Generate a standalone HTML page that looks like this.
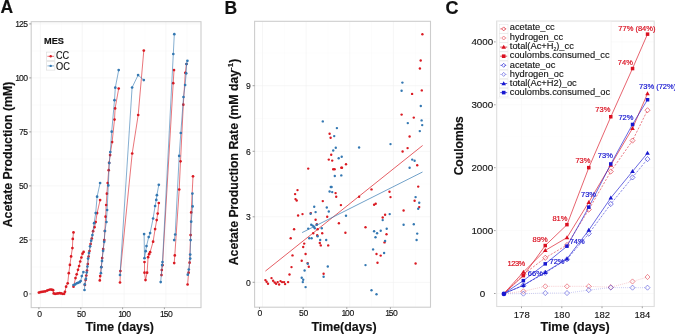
<!DOCTYPE html><html><head><meta charset="utf-8"><title>Figure</title>
<style>html,body{margin:0;padding:0;background:#fff}body{width:675px;height:334px;overflow:hidden}svg{display:block;will-change:transform;opacity:0.999}text{font-family:"Liberation Sans", sans-serif;stroke:#111;stroke-width:0.12px}text[font-weight=bold]{stroke-width:0.15px}</style></head><body>
<svg width="675" height="334" viewBox="0 0 675 334">
<rect width="675" height="334" fill="#fff"/>
<rect x="31.2" y="21.7" width="169.8" height="285.9" fill="#fff"/>
<line x1="61.3" x2="61.3" y1="21.7" y2="307.6" stroke="#f9f9f9" stroke-width="0.5"/>
<line x1="103.2" x2="103.2" y1="21.7" y2="307.6" stroke="#f9f9f9" stroke-width="0.5"/>
<line x1="145.0" x2="145.0" y1="21.7" y2="307.6" stroke="#f9f9f9" stroke-width="0.5"/>
<line x1="186.9" x2="186.9" y1="21.7" y2="307.6" stroke="#f9f9f9" stroke-width="0.5"/>
<line x1="31.2" x2="201.0" y1="266.9" y2="266.9" stroke="#f9f9f9" stroke-width="0.5"/>
<line x1="31.2" x2="201.0" y1="212.9" y2="212.9" stroke="#f9f9f9" stroke-width="0.5"/>
<line x1="31.2" x2="201.0" y1="158.9" y2="158.9" stroke="#f9f9f9" stroke-width="0.5"/>
<line x1="31.2" x2="201.0" y1="104.9" y2="104.9" stroke="#f9f9f9" stroke-width="0.5"/>
<line x1="31.2" x2="201.0" y1="50.9" y2="50.9" stroke="#f9f9f9" stroke-width="0.5"/>
<line x1="40.4" x2="40.4" y1="21.7" y2="307.6" stroke="#f0f0f0" stroke-width="0.6"/>
<line x1="82.2" x2="82.2" y1="21.7" y2="307.6" stroke="#f0f0f0" stroke-width="0.6"/>
<line x1="124.1" x2="124.1" y1="21.7" y2="307.6" stroke="#f0f0f0" stroke-width="0.6"/>
<line x1="165.9" x2="165.9" y1="21.7" y2="307.6" stroke="#f0f0f0" stroke-width="0.6"/>
<line x1="31.2" x2="201.0" y1="293.9" y2="293.9" stroke="#f0f0f0" stroke-width="0.6"/>
<line x1="31.2" x2="201.0" y1="239.9" y2="239.9" stroke="#f0f0f0" stroke-width="0.6"/>
<line x1="31.2" x2="201.0" y1="185.9" y2="185.9" stroke="#f0f0f0" stroke-width="0.6"/>
<line x1="31.2" x2="201.0" y1="131.9" y2="131.9" stroke="#f0f0f0" stroke-width="0.6"/>
<line x1="31.2" x2="201.0" y1="77.9" y2="77.9" stroke="#f0f0f0" stroke-width="0.6"/>
<line x1="31.2" x2="201.0" y1="23.9" y2="23.9" stroke="#f0f0f0" stroke-width="0.6"/>
<polyline points="38.9,292.6 40.4,292.2 42.0,291.8 43.6,291.6 45.2,291.4 47.1,290.6 48.5,290.0 50.1,289.5 51.7,289.7 53.1,290.2 53.7,293.4 55.1,293.8 56.7,293.6 58.1,293.4 59.7,293.2 61.1,293.4 62.7,293.8 64.1,293.8 65.0,291.8 66.1,286.7 67.7,283.3 68.8,273.2 69.9,264.9 71.1,256.4 72.4,248.1 72.8,238.9 73.5,232.4" fill="none" stroke="#DA1A22" stroke-width="0.6" stroke-opacity="1"/>
<circle cx="38.9" cy="292.6" r="1.35" fill="#DA1A22"/>
<circle cx="40.4" cy="292.2" r="1.35" fill="#DA1A22"/>
<circle cx="42.0" cy="291.8" r="1.35" fill="#DA1A22"/>
<circle cx="43.6" cy="291.6" r="1.35" fill="#DA1A22"/>
<circle cx="45.2" cy="291.4" r="1.35" fill="#DA1A22"/>
<circle cx="47.1" cy="290.6" r="1.35" fill="#DA1A22"/>
<circle cx="48.5" cy="290.0" r="1.35" fill="#DA1A22"/>
<circle cx="50.1" cy="289.5" r="1.35" fill="#DA1A22"/>
<circle cx="51.7" cy="289.7" r="1.35" fill="#DA1A22"/>
<circle cx="53.1" cy="290.2" r="1.35" fill="#DA1A22"/>
<circle cx="53.7" cy="293.4" r="1.35" fill="#DA1A22"/>
<circle cx="55.1" cy="293.8" r="1.35" fill="#DA1A22"/>
<circle cx="56.7" cy="293.6" r="1.35" fill="#DA1A22"/>
<circle cx="58.1" cy="293.4" r="1.35" fill="#DA1A22"/>
<circle cx="59.7" cy="293.2" r="1.35" fill="#DA1A22"/>
<circle cx="61.1" cy="293.4" r="1.35" fill="#DA1A22"/>
<circle cx="62.7" cy="293.8" r="1.35" fill="#DA1A22"/>
<circle cx="64.1" cy="293.8" r="1.35" fill="#DA1A22"/>
<circle cx="65.0" cy="291.8" r="1.35" fill="#DA1A22"/>
<circle cx="66.1" cy="286.7" r="1.35" fill="#DA1A22"/>
<circle cx="67.7" cy="283.3" r="1.35" fill="#DA1A22"/>
<circle cx="68.8" cy="273.2" r="1.35" fill="#DA1A22"/>
<circle cx="69.9" cy="264.9" r="1.35" fill="#DA1A22"/>
<circle cx="71.1" cy="256.4" r="1.35" fill="#DA1A22"/>
<circle cx="72.4" cy="248.1" r="1.35" fill="#DA1A22"/>
<circle cx="72.8" cy="238.9" r="1.35" fill="#DA1A22"/>
<circle cx="73.5" cy="232.4" r="1.35" fill="#DA1A22"/>
<polyline points="73.5,286.7 75.5,278.1 76.7,274.3 78.0,269.8 79.1,266.0 80.2,261.5 81.4,257.5 82.5,253.7 83.6,251.9" fill="none" stroke="#DA1A22" stroke-width="0.6" stroke-opacity="1"/>
<circle cx="73.5" cy="286.7" r="1.35" fill="#DA1A22"/>
<circle cx="75.5" cy="278.1" r="1.35" fill="#DA1A22"/>
<circle cx="76.7" cy="274.3" r="1.35" fill="#DA1A22"/>
<circle cx="78.0" cy="269.8" r="1.35" fill="#DA1A22"/>
<circle cx="79.1" cy="266.0" r="1.35" fill="#DA1A22"/>
<circle cx="80.2" cy="261.5" r="1.35" fill="#DA1A22"/>
<circle cx="81.4" cy="257.5" r="1.35" fill="#DA1A22"/>
<circle cx="82.5" cy="253.7" r="1.35" fill="#DA1A22"/>
<circle cx="83.6" cy="251.9" r="1.35" fill="#DA1A22"/>
<polyline points="84.9,285.0 85.6,280.0 86.3,275.5 87.0,270.5 87.8,264.0 88.6,256.5 89.5,251.0 90.6,244.0 91.8,238.5 93.1,231.2 94.5,227.2 95.7,222.1 97.1,213.1 100.1,200.1" fill="none" stroke="#DA1A22" stroke-width="0.6" stroke-opacity="1"/>
<circle cx="84.9" cy="285.0" r="1.35" fill="#DA1A22"/>
<circle cx="85.6" cy="280.0" r="1.35" fill="#DA1A22"/>
<circle cx="86.3" cy="275.5" r="1.35" fill="#DA1A22"/>
<circle cx="87.0" cy="270.5" r="1.35" fill="#DA1A22"/>
<circle cx="87.8" cy="264.0" r="1.35" fill="#DA1A22"/>
<circle cx="88.6" cy="256.5" r="1.35" fill="#DA1A22"/>
<circle cx="89.5" cy="251.0" r="1.35" fill="#DA1A22"/>
<circle cx="90.6" cy="244.0" r="1.35" fill="#DA1A22"/>
<circle cx="91.8" cy="238.5" r="1.35" fill="#DA1A22"/>
<circle cx="93.1" cy="231.2" r="1.35" fill="#DA1A22"/>
<circle cx="94.5" cy="227.2" r="1.35" fill="#DA1A22"/>
<circle cx="95.7" cy="222.1" r="1.35" fill="#DA1A22"/>
<circle cx="97.1" cy="213.1" r="1.35" fill="#DA1A22"/>
<circle cx="100.1" cy="200.1" r="1.35" fill="#DA1A22"/>
<polyline points="99.8,280.4 100.2,276.1 101.3,267.0 102.2,258.0 103.2,249.0 104.3,240.0 104.9,231.0 105.6,216.7 106.2,205.0 106.9,193.7 107.7,183.0 108.7,170.2 109.1,162.8 110.1,155.1 112.1,142.1 114.5,119.6 115.1,108.4 118.7,88.5" fill="none" stroke="#DA1A22" stroke-width="0.6" stroke-opacity="1"/>
<circle cx="99.8" cy="280.4" r="1.35" fill="#DA1A22"/>
<circle cx="100.2" cy="276.1" r="1.35" fill="#DA1A22"/>
<circle cx="101.3" cy="267.0" r="1.35" fill="#DA1A22"/>
<circle cx="102.2" cy="258.0" r="1.35" fill="#DA1A22"/>
<circle cx="103.2" cy="249.0" r="1.35" fill="#DA1A22"/>
<circle cx="104.3" cy="240.0" r="1.35" fill="#DA1A22"/>
<circle cx="104.9" cy="231.0" r="1.35" fill="#DA1A22"/>
<circle cx="105.6" cy="216.7" r="1.35" fill="#DA1A22"/>
<circle cx="106.2" cy="205.0" r="1.35" fill="#DA1A22"/>
<circle cx="106.9" cy="193.7" r="1.35" fill="#DA1A22"/>
<circle cx="107.7" cy="183.0" r="1.35" fill="#DA1A22"/>
<circle cx="108.7" cy="170.2" r="1.35" fill="#DA1A22"/>
<circle cx="109.1" cy="162.8" r="1.35" fill="#DA1A22"/>
<circle cx="110.1" cy="155.1" r="1.35" fill="#DA1A22"/>
<circle cx="112.1" cy="142.1" r="1.35" fill="#DA1A22"/>
<circle cx="114.5" cy="119.6" r="1.35" fill="#DA1A22"/>
<circle cx="115.1" cy="108.4" r="1.35" fill="#DA1A22"/>
<circle cx="118.7" cy="88.5" r="1.35" fill="#DA1A22"/>
<polyline points="120.0,282.5 120.4,271.0 132.2,153.5 138.2,115.0 143.8,50.6" fill="none" stroke="#DA1A22" stroke-width="0.6" stroke-opacity="1"/>
<circle cx="120.0" cy="282.5" r="1.35" fill="#DA1A22"/>
<circle cx="120.4" cy="271.0" r="1.35" fill="#DA1A22"/>
<circle cx="132.2" cy="153.5" r="1.35" fill="#DA1A22"/>
<circle cx="138.2" cy="115.0" r="1.35" fill="#DA1A22"/>
<circle cx="143.8" cy="50.6" r="1.35" fill="#DA1A22"/>
<polyline points="144.5,262.0 144.5,272.7 145.5,280.1 147.1,272.7 148.1,257.2 149.1,254.2 150.1,252.2 153.1,241.7 155.1,229.1 156.7,220.1 157.7,213.6 158.8,203.0" fill="none" stroke="#DA1A22" stroke-width="0.6" stroke-opacity="1"/>
<circle cx="144.5" cy="262.0" r="1.35" fill="#DA1A22"/>
<circle cx="144.5" cy="272.7" r="1.35" fill="#DA1A22"/>
<circle cx="145.5" cy="280.1" r="1.35" fill="#DA1A22"/>
<circle cx="147.1" cy="272.7" r="1.35" fill="#DA1A22"/>
<circle cx="148.1" cy="257.2" r="1.35" fill="#DA1A22"/>
<circle cx="149.1" cy="254.2" r="1.35" fill="#DA1A22"/>
<circle cx="150.1" cy="252.2" r="1.35" fill="#DA1A22"/>
<circle cx="153.1" cy="241.7" r="1.35" fill="#DA1A22"/>
<circle cx="155.1" cy="229.1" r="1.35" fill="#DA1A22"/>
<circle cx="156.7" cy="220.1" r="1.35" fill="#DA1A22"/>
<circle cx="157.7" cy="213.6" r="1.35" fill="#DA1A22"/>
<circle cx="158.8" cy="203.0" r="1.35" fill="#DA1A22"/>
<polyline points="161.5,275.1 161.8,270.0 162.5,265.2 173.2,83.2 174.0,70.1" fill="none" stroke="#DA1A22" stroke-width="0.6" stroke-opacity="1"/>
<circle cx="161.5" cy="275.1" r="1.35" fill="#DA1A22"/>
<circle cx="161.8" cy="270.0" r="1.35" fill="#DA1A22"/>
<circle cx="162.5" cy="265.2" r="1.35" fill="#DA1A22"/>
<circle cx="173.2" cy="83.2" r="1.35" fill="#DA1A22"/>
<circle cx="174.0" cy="70.1" r="1.35" fill="#DA1A22"/>
<polyline points="174.2,263.1 174.8,255.4 179.2,189.5 180.5,161.3 183.3,104.7 185.3,72.8 186.5,64.0" fill="none" stroke="#DA1A22" stroke-width="0.6" stroke-opacity="1"/>
<circle cx="174.2" cy="263.1" r="1.35" fill="#DA1A22"/>
<circle cx="174.8" cy="255.4" r="1.35" fill="#DA1A22"/>
<circle cx="179.2" cy="189.5" r="1.35" fill="#DA1A22"/>
<circle cx="180.5" cy="161.3" r="1.35" fill="#DA1A22"/>
<circle cx="183.3" cy="104.7" r="1.35" fill="#DA1A22"/>
<circle cx="185.3" cy="72.8" r="1.35" fill="#DA1A22"/>
<circle cx="186.5" cy="64.0" r="1.35" fill="#DA1A22"/>
<polyline points="187.6,284.5 188.6,272.7 189.6,262.7 190.6,235.1 191.2,212.4 193.0,176.3" fill="none" stroke="#DA1A22" stroke-width="0.6" stroke-opacity="1"/>
<circle cx="187.6" cy="284.5" r="1.35" fill="#DA1A22"/>
<circle cx="188.6" cy="272.7" r="1.35" fill="#DA1A22"/>
<circle cx="189.6" cy="262.7" r="1.35" fill="#DA1A22"/>
<circle cx="190.6" cy="235.1" r="1.35" fill="#DA1A22"/>
<circle cx="191.2" cy="212.4" r="1.35" fill="#DA1A22"/>
<circle cx="193.0" cy="176.3" r="1.35" fill="#DA1A22"/>
<polyline points="73.5,285.1 75.1,284.4 76.7,283.3 78.0,282.8 79.6,282.2 80.7,281.0 81.8,276.1 83.4,272.1" fill="none" stroke="#3478B2" stroke-width="0.6" stroke-opacity="1"/>
<circle cx="73.5" cy="285.1" r="1.35" fill="#3478B2"/>
<circle cx="75.1" cy="284.4" r="1.35" fill="#3478B2"/>
<circle cx="76.7" cy="283.3" r="1.35" fill="#3478B2"/>
<circle cx="78.0" cy="282.8" r="1.35" fill="#3478B2"/>
<circle cx="79.6" cy="282.2" r="1.35" fill="#3478B2"/>
<circle cx="80.7" cy="281.0" r="1.35" fill="#3478B2"/>
<circle cx="81.8" cy="276.1" r="1.35" fill="#3478B2"/>
<circle cx="83.4" cy="272.1" r="1.35" fill="#3478B2"/>
<polyline points="84.5,290.0 84.7,284.4 85.9,278.8 86.7,272.5 87.4,266.5 88.1,258.6 89.0,253.0 90.1,246.3 91.2,240.7 92.4,235.1 94.1,223.2 95.7,213.1 97.1,196.7 100.1,183.0" fill="none" stroke="#3478B2" stroke-width="0.6" stroke-opacity="1"/>
<circle cx="84.5" cy="290.0" r="1.35" fill="#3478B2"/>
<circle cx="84.7" cy="284.4" r="1.35" fill="#3478B2"/>
<circle cx="85.9" cy="278.8" r="1.35" fill="#3478B2"/>
<circle cx="86.7" cy="272.5" r="1.35" fill="#3478B2"/>
<circle cx="87.4" cy="266.5" r="1.35" fill="#3478B2"/>
<circle cx="88.1" cy="258.6" r="1.35" fill="#3478B2"/>
<circle cx="89.0" cy="253.0" r="1.35" fill="#3478B2"/>
<circle cx="90.1" cy="246.3" r="1.35" fill="#3478B2"/>
<circle cx="91.2" cy="240.7" r="1.35" fill="#3478B2"/>
<circle cx="92.4" cy="235.1" r="1.35" fill="#3478B2"/>
<circle cx="94.1" cy="223.2" r="1.35" fill="#3478B2"/>
<circle cx="95.7" cy="213.1" r="1.35" fill="#3478B2"/>
<circle cx="97.1" cy="196.7" r="1.35" fill="#3478B2"/>
<circle cx="100.1" cy="183.0" r="1.35" fill="#3478B2"/>
<polyline points="100.9,273.2 101.3,267.2 102.0,260.9 103.1,250.8 104.2,241.8 104.9,231.0 106.4,222.0 107.1,210.0 108.3,185.4 109.3,163.0 110.3,152.0 111.7,131.7 114.5,100.2 115.3,87.7 118.7,70.1" fill="none" stroke="#3478B2" stroke-width="0.6" stroke-opacity="1"/>
<circle cx="100.9" cy="273.2" r="1.35" fill="#3478B2"/>
<circle cx="101.3" cy="267.2" r="1.35" fill="#3478B2"/>
<circle cx="102.0" cy="260.9" r="1.35" fill="#3478B2"/>
<circle cx="103.1" cy="250.8" r="1.35" fill="#3478B2"/>
<circle cx="104.2" cy="241.8" r="1.35" fill="#3478B2"/>
<circle cx="104.9" cy="231.0" r="1.35" fill="#3478B2"/>
<circle cx="106.4" cy="222.0" r="1.35" fill="#3478B2"/>
<circle cx="107.1" cy="210.0" r="1.35" fill="#3478B2"/>
<circle cx="108.3" cy="185.4" r="1.35" fill="#3478B2"/>
<circle cx="109.3" cy="163.0" r="1.35" fill="#3478B2"/>
<circle cx="110.3" cy="152.0" r="1.35" fill="#3478B2"/>
<circle cx="111.7" cy="131.7" r="1.35" fill="#3478B2"/>
<circle cx="114.5" cy="100.2" r="1.35" fill="#3478B2"/>
<circle cx="115.3" cy="87.7" r="1.35" fill="#3478B2"/>
<circle cx="118.7" cy="70.1" r="1.35" fill="#3478B2"/>
<polyline points="120.0,275.0 132.1,87.5 138.1,75.1 143.8,80.1" fill="none" stroke="#3478B2" stroke-width="0.6" stroke-opacity="1"/>
<circle cx="120.0" cy="275.0" r="1.35" fill="#3478B2"/>
<circle cx="132.1" cy="87.5" r="1.35" fill="#3478B2"/>
<circle cx="138.1" cy="75.1" r="1.35" fill="#3478B2"/>
<circle cx="143.8" cy="80.1" r="1.35" fill="#3478B2"/>
<polyline points="144.1,234.1 144.5,258.2 145.7,251.2 146.5,246.1 148.7,237.1 150.1,233.1 153.1,218.5 155.1,206.0 156.3,199.9 156.9,195.2 158.8,184.8" fill="none" stroke="#3478B2" stroke-width="0.6" stroke-opacity="1"/>
<circle cx="144.1" cy="234.1" r="1.35" fill="#3478B2"/>
<circle cx="144.5" cy="258.2" r="1.35" fill="#3478B2"/>
<circle cx="145.7" cy="251.2" r="1.35" fill="#3478B2"/>
<circle cx="146.5" cy="246.1" r="1.35" fill="#3478B2"/>
<circle cx="148.7" cy="237.1" r="1.35" fill="#3478B2"/>
<circle cx="150.1" cy="233.1" r="1.35" fill="#3478B2"/>
<circle cx="153.1" cy="218.5" r="1.35" fill="#3478B2"/>
<circle cx="155.1" cy="206.0" r="1.35" fill="#3478B2"/>
<circle cx="156.3" cy="199.9" r="1.35" fill="#3478B2"/>
<circle cx="156.9" cy="195.2" r="1.35" fill="#3478B2"/>
<circle cx="158.8" cy="184.8" r="1.35" fill="#3478B2"/>
<polyline points="160.7,282.1 162.1,265.1 162.5,262.0 173.3,54.0 174.3,34.2" fill="none" stroke="#3478B2" stroke-width="0.6" stroke-opacity="1"/>
<circle cx="160.7" cy="282.1" r="1.35" fill="#3478B2"/>
<circle cx="162.1" cy="265.1" r="1.35" fill="#3478B2"/>
<circle cx="162.5" cy="262.0" r="1.35" fill="#3478B2"/>
<circle cx="173.3" cy="54.0" r="1.35" fill="#3478B2"/>
<circle cx="174.3" cy="34.2" r="1.35" fill="#3478B2"/>
<polyline points="174.2,240.1 175.2,234.5 179.2,155.9 180.8,133.0 183.5,97.0 185.1,85.0 186.2,73.3 186.5,64.0 187.4,60.8" fill="none" stroke="#3478B2" stroke-width="0.6" stroke-opacity="1"/>
<circle cx="174.2" cy="240.1" r="1.35" fill="#3478B2"/>
<circle cx="175.2" cy="234.5" r="1.35" fill="#3478B2"/>
<circle cx="179.2" cy="155.9" r="1.35" fill="#3478B2"/>
<circle cx="180.8" cy="133.0" r="1.35" fill="#3478B2"/>
<circle cx="183.5" cy="97.0" r="1.35" fill="#3478B2"/>
<circle cx="185.1" cy="85.0" r="1.35" fill="#3478B2"/>
<circle cx="186.2" cy="73.3" r="1.35" fill="#3478B2"/>
<circle cx="186.5" cy="64.0" r="1.35" fill="#3478B2"/>
<circle cx="187.4" cy="60.8" r="1.35" fill="#3478B2"/>
<polyline points="187.8,274.7 188.8,269.5 190.2,258.6 190.2,254.6 190.6,240.1 191.2,221.7 192.6,206.4 192.4,193.6" fill="none" stroke="#3478B2" stroke-width="0.6" stroke-opacity="1"/>
<circle cx="187.8" cy="274.7" r="1.35" fill="#3478B2"/>
<circle cx="188.8" cy="269.5" r="1.35" fill="#3478B2"/>
<circle cx="190.2" cy="258.6" r="1.35" fill="#3478B2"/>
<circle cx="190.2" cy="254.6" r="1.35" fill="#3478B2"/>
<circle cx="190.6" cy="240.1" r="1.35" fill="#3478B2"/>
<circle cx="191.2" cy="221.7" r="1.35" fill="#3478B2"/>
<circle cx="192.6" cy="206.4" r="1.35" fill="#3478B2"/>
<circle cx="192.4" cy="193.6" r="1.35" fill="#3478B2"/>
<rect x="31.2" y="21.7" width="169.8" height="285.9" fill="none" stroke="#cdcdcd" stroke-width="1.1"/>
<text x="44.0" y="43.9" font-size="9.2" text-anchor="start" font-weight="bold" fill="#111" >MES</text>
<rect x="46.5" y="52.1" width="8.4" height="8.4" fill="#fff" stroke="#d9d9d9" stroke-width="0.6"/>
<line x1="47.4" x2="54" y1="56.3" y2="56.3" stroke="#DA1A22" stroke-width="0.6"/>
<circle cx="50.7" cy="56.3" r="1.2" fill="#DA1A22"/>
<text x="56.0" y="59.0" font-size="10.4" text-anchor="start" font-weight="normal" fill="#111" textLength="13.2" lengthAdjust="spacingAndGlyphs">CC</text>
<rect x="46.5" y="61.7" width="8.4" height="8.4" fill="#fff" stroke="#d9d9d9" stroke-width="0.6"/>
<line x1="47.4" x2="54" y1="65.9" y2="65.9" stroke="#3478B2" stroke-width="0.6"/>
<circle cx="50.7" cy="65.9" r="1.2" fill="#3478B2"/>
<text x="56.0" y="70.4" font-size="10.4" text-anchor="start" font-weight="normal" fill="#111" textLength="13.9" lengthAdjust="spacingAndGlyphs">OC</text>
<text transform="translate(23.32,297.15) scale(1,1.12)" font-size="8.6" fill="#111">0</text>
<line x1="29.2" x2="31.2" y1="293.9" y2="293.9" stroke="#777" stroke-width="0.7"/>
<text transform="translate(18.99,243.15) scale(1,1.12)" font-size="8.6" fill="#111">2<tspan dx="-0.45">5</tspan></text>
<line x1="29.2" x2="31.2" y1="239.9" y2="239.9" stroke="#777" stroke-width="0.7"/>
<text transform="translate(18.99,189.15) scale(1,1.12)" font-size="8.6" fill="#111">5<tspan dx="-0.45">0</tspan></text>
<line x1="29.2" x2="31.2" y1="185.9" y2="185.9" stroke="#777" stroke-width="0.7"/>
<text transform="translate(18.99,135.15) scale(1,1.12)" font-size="8.6" fill="#111">7<tspan dx="-0.45">5</tspan></text>
<line x1="29.2" x2="31.2" y1="131.9" y2="131.9" stroke="#777" stroke-width="0.7"/>
<text transform="translate(15.36,81.15) scale(1,1.12)" font-size="8.6" fill="#111">1<tspan dx="-1.15">0</tspan><tspan dx="-0.45">0</tspan></text>
<line x1="29.2" x2="31.2" y1="77.9" y2="77.9" stroke="#777" stroke-width="0.7"/>
<text transform="translate(15.36,27.15) scale(1,1.12)" font-size="8.6" fill="#111">1<tspan dx="-1.15">2</tspan><tspan dx="-0.45">5</tspan></text>
<line x1="29.2" x2="31.2" y1="23.9" y2="23.9" stroke="#777" stroke-width="0.7"/>
<text transform="translate(37.31,316.65) scale(1,1.12)" font-size="8.6" fill="#111">0</text>
<line x1="38.9" x2="38.9" y1="307.6" y2="309.2" stroke="#777" stroke-width="0.7"/>
<text transform="translate(76.99,316.65) scale(1,1.12)" font-size="8.6" fill="#111">5<tspan dx="-0.45">0</tspan></text>
<line x1="80.8" x2="80.8" y1="307.6" y2="309.2" stroke="#777" stroke-width="0.7"/>
<text transform="translate(118.18,316.65) scale(1,1.12)" font-size="8.6" fill="#111">1<tspan dx="-1.15">0</tspan><tspan dx="-0.45">0</tspan></text>
<line x1="122.6" x2="122.6" y1="307.6" y2="309.2" stroke="#777" stroke-width="0.7"/>
<text transform="translate(160.03,316.65) scale(1,1.12)" font-size="8.6" fill="#111">1<tspan dx="-1.15">5</tspan><tspan dx="-0.45">0</tspan></text>
<line x1="164.4" x2="164.4" y1="307.6" y2="309.2" stroke="#777" stroke-width="0.7"/>
<text x="119.7" y="330.6" font-size="12.35" text-anchor="middle" font-weight="bold" fill="#111" >Time (days)</text>
<text transform="translate(12.3,154.5) rotate(-90)" font-size="12.3" text-anchor="middle" font-weight="bold" fill="#111">Acetate Production (mM)</text>
<text x="0.6" y="13.2" font-size="17.5" text-anchor="start" font-weight="bold" fill="#111" >A</text>
<rect x="254.6" y="21.3" width="175.9" height="285.9" fill="#fff"/>
<line x1="284.3" x2="284.3" y1="21.3" y2="307.2" stroke="#f9f9f9" stroke-width="0.5"/>
<line x1="328.0" x2="328.0" y1="21.3" y2="307.2" stroke="#f9f9f9" stroke-width="0.5"/>
<line x1="371.6" x2="371.6" y1="21.3" y2="307.2" stroke="#f9f9f9" stroke-width="0.5"/>
<line x1="415.3" x2="415.3" y1="21.3" y2="307.2" stroke="#f9f9f9" stroke-width="0.5"/>
<line x1="254.6" x2="430.5" y1="249.5" y2="249.5" stroke="#f9f9f9" stroke-width="0.5"/>
<line x1="254.6" x2="430.5" y1="184.0" y2="184.0" stroke="#f9f9f9" stroke-width="0.5"/>
<line x1="254.6" x2="430.5" y1="118.5" y2="118.5" stroke="#f9f9f9" stroke-width="0.5"/>
<line x1="254.6" x2="430.5" y1="53.0" y2="53.0" stroke="#f9f9f9" stroke-width="0.5"/>
<line x1="262.5" x2="262.5" y1="21.3" y2="307.2" stroke="#f0f0f0" stroke-width="0.6"/>
<line x1="306.1" x2="306.1" y1="21.3" y2="307.2" stroke="#f0f0f0" stroke-width="0.6"/>
<line x1="349.8" x2="349.8" y1="21.3" y2="307.2" stroke="#f0f0f0" stroke-width="0.6"/>
<line x1="393.4" x2="393.4" y1="21.3" y2="307.2" stroke="#f0f0f0" stroke-width="0.6"/>
<line x1="254.6" x2="430.5" y1="282.3" y2="282.3" stroke="#f0f0f0" stroke-width="0.6"/>
<line x1="254.6" x2="430.5" y1="216.8" y2="216.8" stroke="#f0f0f0" stroke-width="0.6"/>
<line x1="254.6" x2="430.5" y1="151.3" y2="151.3" stroke="#f0f0f0" stroke-width="0.6"/>
<line x1="254.6" x2="430.5" y1="85.7" y2="85.7" stroke="#f0f0f0" stroke-width="0.6"/>
<line x1="265.4" y1="271.1" x2="422.6" y2="145.5" stroke="#DA1A22" stroke-width="0.7"/>
<line x1="302.1" y1="232.6" x2="422.5" y2="172" stroke="#3478B2" stroke-width="0.7"/>
<circle cx="265.4" cy="280.1" r="1.2" fill="#DA1A22"/>
<circle cx="266.6" cy="281.7" r="1.2" fill="#DA1A22"/>
<circle cx="268.0" cy="283.7" r="1.2" fill="#DA1A22"/>
<circle cx="271.5" cy="278.1" r="1.2" fill="#DA1A22"/>
<circle cx="273.1" cy="280.7" r="1.2" fill="#DA1A22"/>
<circle cx="274.7" cy="282.5" r="1.2" fill="#DA1A22"/>
<circle cx="276.1" cy="283.7" r="1.2" fill="#DA1A22"/>
<circle cx="277.7" cy="282.1" r="1.2" fill="#DA1A22"/>
<circle cx="279.1" cy="284.5" r="1.2" fill="#DA1A22"/>
<circle cx="280.5" cy="281.1" r="1.2" fill="#DA1A22"/>
<circle cx="282.1" cy="282.1" r="1.2" fill="#DA1A22"/>
<circle cx="284.1" cy="282.1" r="1.2" fill="#DA1A22"/>
<circle cx="285.1" cy="284.1" r="1.2" fill="#DA1A22"/>
<circle cx="288.1" cy="282.1" r="1.2" fill="#DA1A22"/>
<circle cx="289.5" cy="274.5" r="1.2" fill="#DA1A22"/>
<circle cx="291.5" cy="267.1" r="1.2" fill="#DA1A22"/>
<circle cx="292.5" cy="255.4" r="1.2" fill="#DA1A22"/>
<circle cx="301.7" cy="260.7" r="1.2" fill="#DA1A22"/>
<circle cx="303.2" cy="247.0" r="1.2" fill="#DA1A22"/>
<circle cx="304.2" cy="243.6" r="1.2" fill="#DA1A22"/>
<circle cx="305.6" cy="254.0" r="1.2" fill="#DA1A22"/>
<circle cx="307.6" cy="263.1" r="1.2" fill="#DA1A22"/>
<circle cx="308.8" cy="266.7" r="1.2" fill="#DA1A22"/>
<circle cx="319.8" cy="243.0" r="1.2" fill="#DA1A22"/>
<circle cx="320.8" cy="245.4" r="1.2" fill="#DA1A22"/>
<circle cx="328.2" cy="245.4" r="1.2" fill="#DA1A22"/>
<circle cx="323.6" cy="273.7" r="1.2" fill="#DA1A22"/>
<circle cx="297.5" cy="190.1" r="1.2" fill="#DA1A22"/>
<circle cx="295.1" cy="194.1" r="1.2" fill="#DA1A22"/>
<circle cx="295.5" cy="199.1" r="1.2" fill="#DA1A22"/>
<circle cx="296.7" cy="200.5" r="1.2" fill="#DA1A22"/>
<circle cx="298.1" cy="215.5" r="1.2" fill="#DA1A22"/>
<circle cx="302.5" cy="214.1" r="1.2" fill="#DA1A22"/>
<circle cx="294.1" cy="229.2" r="1.2" fill="#DA1A22"/>
<circle cx="290.7" cy="238.2" r="1.2" fill="#DA1A22"/>
<circle cx="310.8" cy="213.1" r="1.2" fill="#DA1A22"/>
<circle cx="315.6" cy="219.7" r="1.2" fill="#DA1A22"/>
<circle cx="316.8" cy="224.2" r="1.2" fill="#DA1A22"/>
<circle cx="317.6" cy="229.2" r="1.2" fill="#DA1A22"/>
<circle cx="313.2" cy="233.2" r="1.2" fill="#DA1A22"/>
<circle cx="322.2" cy="233.2" r="1.2" fill="#DA1A22"/>
<circle cx="322.8" cy="201.1" r="1.2" fill="#DA1A22"/>
<circle cx="327.2" cy="216.7" r="1.2" fill="#DA1A22"/>
<circle cx="335.6" cy="193.1" r="1.2" fill="#DA1A22"/>
<circle cx="336.2" cy="196.7" r="1.2" fill="#DA1A22"/>
<circle cx="340.9" cy="205.1" r="1.2" fill="#DA1A22"/>
<circle cx="338.9" cy="223.2" r="1.2" fill="#DA1A22"/>
<circle cx="317.2" cy="235.2" r="1.2" fill="#DA1A22"/>
<circle cx="329.6" cy="133.7" r="1.2" fill="#DA1A22"/>
<circle cx="330.6" cy="137.7" r="1.2" fill="#DA1A22"/>
<circle cx="331.2" cy="154.7" r="1.2" fill="#DA1A22"/>
<circle cx="328.8" cy="159.6" r="1.2" fill="#DA1A22"/>
<circle cx="332.2" cy="160.6" r="1.2" fill="#DA1A22"/>
<circle cx="308.2" cy="168.6" r="1.2" fill="#DA1A22"/>
<circle cx="333.2" cy="169.2" r="1.2" fill="#DA1A22"/>
<circle cx="334.6" cy="169.2" r="1.2" fill="#DA1A22"/>
<circle cx="341.3" cy="167.8" r="1.2" fill="#DA1A22"/>
<circle cx="384.5" cy="242.4" r="1.2" fill="#DA1A22"/>
<circle cx="376.5" cy="254.0" r="1.2" fill="#DA1A22"/>
<circle cx="380.7" cy="255.6" r="1.2" fill="#DA1A22"/>
<circle cx="377.5" cy="262.7" r="1.2" fill="#DA1A22"/>
<circle cx="415.6" cy="263.5" r="1.2" fill="#DA1A22"/>
<circle cx="359.1" cy="196.7" r="1.2" fill="#DA1A22"/>
<circle cx="371.5" cy="189.4" r="1.2" fill="#DA1A22"/>
<circle cx="389.5" cy="191.7" r="1.2" fill="#DA1A22"/>
<circle cx="390.5" cy="197.1" r="1.2" fill="#DA1A22"/>
<circle cx="374.1" cy="204.7" r="1.2" fill="#DA1A22"/>
<circle cx="375.7" cy="203.7" r="1.2" fill="#DA1A22"/>
<circle cx="418.2" cy="186.6" r="1.2" fill="#DA1A22"/>
<circle cx="414.6" cy="200.7" r="1.2" fill="#DA1A22"/>
<circle cx="419.2" cy="207.1" r="1.2" fill="#DA1A22"/>
<circle cx="403.6" cy="210.5" r="1.2" fill="#DA1A22"/>
<circle cx="385.1" cy="214.7" r="1.2" fill="#DA1A22"/>
<circle cx="382.7" cy="217.5" r="1.2" fill="#DA1A22"/>
<circle cx="365.5" cy="227.2" r="1.2" fill="#DA1A22"/>
<circle cx="345.4" cy="232.8" r="1.2" fill="#DA1A22"/>
<circle cx="386.5" cy="234.2" r="1.2" fill="#DA1A22"/>
<circle cx="401.6" cy="114.6" r="1.2" fill="#DA1A22"/>
<circle cx="413.8" cy="117.6" r="1.2" fill="#DA1A22"/>
<circle cx="409.6" cy="136.5" r="1.2" fill="#DA1A22"/>
<circle cx="407.6" cy="148.1" r="1.2" fill="#DA1A22"/>
<circle cx="402.6" cy="151.5" r="1.2" fill="#DA1A22"/>
<circle cx="417.2" cy="165.2" r="1.2" fill="#DA1A22"/>
<circle cx="346.0" cy="164.2" r="1.2" fill="#DA1A22"/>
<circle cx="342.0" cy="167.8" r="1.2" fill="#DA1A22"/>
<circle cx="422.4" cy="34.3" r="1.2" fill="#DA1A22"/>
<circle cx="420.7" cy="60.5" r="1.2" fill="#DA1A22"/>
<circle cx="419.9" cy="68.5" r="1.2" fill="#DA1A22"/>
<circle cx="421.8" cy="90.4" r="1.2" fill="#DA1A22"/>
<circle cx="412.1" cy="93.9" r="1.2" fill="#DA1A22"/>
<circle cx="301.7" cy="277.7" r="1.2" fill="#3478B2"/>
<circle cx="303.2" cy="279.7" r="1.2" fill="#3478B2"/>
<circle cx="302.8" cy="282.1" r="1.2" fill="#3478B2"/>
<circle cx="305.6" cy="287.1" r="1.2" fill="#3478B2"/>
<circle cx="304.6" cy="270.5" r="1.2" fill="#3478B2"/>
<circle cx="307.8" cy="263.7" r="1.2" fill="#3478B2"/>
<circle cx="323.6" cy="276.7" r="1.2" fill="#3478B2"/>
<circle cx="327.8" cy="266.5" r="1.2" fill="#3478B2"/>
<circle cx="320.2" cy="240.0" r="1.2" fill="#3478B2"/>
<circle cx="326.2" cy="240.0" r="1.2" fill="#3478B2"/>
<circle cx="334.8" cy="176.0" r="1.2" fill="#3478B2"/>
<circle cx="341.3" cy="175.4" r="1.2" fill="#3478B2"/>
<circle cx="330.8" cy="187.0" r="1.2" fill="#3478B2"/>
<circle cx="331.6" cy="187.0" r="1.2" fill="#3478B2"/>
<circle cx="329.6" cy="191.5" r="1.2" fill="#3478B2"/>
<circle cx="332.2" cy="192.1" r="1.2" fill="#3478B2"/>
<circle cx="314.2" cy="206.7" r="1.2" fill="#3478B2"/>
<circle cx="315.6" cy="212.1" r="1.2" fill="#3478B2"/>
<circle cx="310.6" cy="213.7" r="1.2" fill="#3478B2"/>
<circle cx="326.8" cy="207.5" r="1.2" fill="#3478B2"/>
<circle cx="328.8" cy="211.5" r="1.2" fill="#3478B2"/>
<circle cx="311.2" cy="224.8" r="1.2" fill="#3478B2"/>
<circle cx="312.6" cy="225.6" r="1.2" fill="#3478B2"/>
<circle cx="313.8" cy="226.8" r="1.2" fill="#3478B2"/>
<circle cx="314.8" cy="228.2" r="1.2" fill="#3478B2"/>
<circle cx="308.2" cy="228.6" r="1.2" fill="#3478B2"/>
<circle cx="316.8" cy="224.8" r="1.2" fill="#3478B2"/>
<circle cx="321.8" cy="228.2" r="1.2" fill="#3478B2"/>
<circle cx="309.2" cy="238.2" r="1.2" fill="#3478B2"/>
<circle cx="311.6" cy="238.2" r="1.2" fill="#3478B2"/>
<circle cx="317.6" cy="236.2" r="1.2" fill="#3478B2"/>
<circle cx="322.8" cy="121.4" r="1.2" fill="#3478B2"/>
<circle cx="336.9" cy="128.1" r="1.2" fill="#3478B2"/>
<circle cx="334.2" cy="136.1" r="1.2" fill="#3478B2"/>
<circle cx="335.8" cy="147.7" r="1.2" fill="#3478B2"/>
<circle cx="333.2" cy="150.5" r="1.2" fill="#3478B2"/>
<circle cx="338.7" cy="158.2" r="1.2" fill="#3478B2"/>
<circle cx="341.7" cy="156.8" r="1.2" fill="#3478B2"/>
<circle cx="373.1" cy="249.4" r="1.2" fill="#3478B2"/>
<circle cx="384.1" cy="253.0" r="1.2" fill="#3478B2"/>
<circle cx="365.5" cy="265.1" r="1.2" fill="#3478B2"/>
<circle cx="371.5" cy="290.2" r="1.2" fill="#3478B2"/>
<circle cx="376.5" cy="294.2" r="1.2" fill="#3478B2"/>
<circle cx="385.1" cy="241.0" r="1.2" fill="#3478B2"/>
<circle cx="416.6" cy="240.0" r="1.2" fill="#3478B2"/>
<circle cx="346.0" cy="215.7" r="1.2" fill="#3478B2"/>
<circle cx="389.7" cy="214.1" r="1.2" fill="#3478B2"/>
<circle cx="382.7" cy="220.1" r="1.2" fill="#3478B2"/>
<circle cx="415.6" cy="197.1" r="1.2" fill="#3478B2"/>
<circle cx="419.2" cy="202.7" r="1.2" fill="#3478B2"/>
<circle cx="418.2" cy="208.7" r="1.2" fill="#3478B2"/>
<circle cx="413.8" cy="224.2" r="1.2" fill="#3478B2"/>
<circle cx="403.6" cy="224.8" r="1.2" fill="#3478B2"/>
<circle cx="386.7" cy="228.8" r="1.2" fill="#3478B2"/>
<circle cx="380.7" cy="230.8" r="1.2" fill="#3478B2"/>
<circle cx="374.1" cy="231.2" r="1.2" fill="#3478B2"/>
<circle cx="377.1" cy="233.2" r="1.2" fill="#3478B2"/>
<circle cx="375.5" cy="237.2" r="1.2" fill="#3478B2"/>
<circle cx="417.2" cy="233.6" r="1.2" fill="#3478B2"/>
<circle cx="420.8" cy="106.0" r="1.2" fill="#3478B2"/>
<circle cx="421.6" cy="120.4" r="1.2" fill="#3478B2"/>
<circle cx="422.2" cy="125.1" r="1.2" fill="#3478B2"/>
<circle cx="407.8" cy="123.1" r="1.2" fill="#3478B2"/>
<circle cx="419.8" cy="131.1" r="1.2" fill="#3478B2"/>
<circle cx="390.5" cy="144.1" r="1.2" fill="#3478B2"/>
<circle cx="359.1" cy="147.5" r="1.2" fill="#3478B2"/>
<circle cx="412.2" cy="159.6" r="1.2" fill="#3478B2"/>
<circle cx="414.6" cy="160.8" r="1.2" fill="#3478B2"/>
<circle cx="409.6" cy="167.8" r="1.2" fill="#3478B2"/>
<circle cx="402.4" cy="82.6" r="1.2" fill="#3478B2"/>
<circle cx="401.6" cy="90.7" r="1.2" fill="#3478B2"/>
<rect x="254.6" y="21.3" width="175.9" height="285.9" fill="none" stroke="#cdcdcd" stroke-width="1.1"/>
<text transform="translate(246.12,285.55) scale(1,1.12)" font-size="8.6" fill="#111">0</text>
<line x1="252.6" x2="254.6" y1="282.3" y2="282.3" stroke="#777" stroke-width="0.7"/>
<text transform="translate(246.12,220.03) scale(1,1.12)" font-size="8.6" fill="#111">3</text>
<line x1="252.6" x2="254.6" y1="216.8" y2="216.8" stroke="#777" stroke-width="0.7"/>
<text transform="translate(246.12,154.51) scale(1,1.12)" font-size="8.6" fill="#111">6</text>
<line x1="252.6" x2="254.6" y1="151.3" y2="151.3" stroke="#777" stroke-width="0.7"/>
<text transform="translate(246.12,88.99) scale(1,1.12)" font-size="8.6" fill="#111">9</text>
<line x1="252.6" x2="254.6" y1="85.7" y2="85.7" stroke="#777" stroke-width="0.7"/>
<text transform="translate(257.61,316.15) scale(1,1.12)" font-size="8.6" fill="#111">0</text>
<line x1="259.5" x2="259.5" y1="307.3" y2="308.9" stroke="#777" stroke-width="0.7"/>
<text transform="translate(299.09,316.15) scale(1,1.12)" font-size="8.6" fill="#111">5<tspan dx="-0.45">0</tspan></text>
<line x1="303.1" x2="303.1" y1="307.3" y2="308.9" stroke="#777" stroke-width="0.7"/>
<text transform="translate(341.48,316.15) scale(1,1.12)" font-size="8.6" fill="#111">1<tspan dx="-1.15">0</tspan><tspan dx="-0.45">0</tspan></text>
<line x1="346.8" x2="346.8" y1="307.3" y2="308.9" stroke="#777" stroke-width="0.7"/>
<text transform="translate(385.13,316.15) scale(1,1.12)" font-size="8.6" fill="#111">1<tspan dx="-1.15">5</tspan><tspan dx="-0.45">0</tspan></text>
<line x1="390.4" x2="390.4" y1="307.3" y2="308.9" stroke="#777" stroke-width="0.7"/>
<text x="344.0" y="331.4" font-size="12.4" text-anchor="middle" font-weight="bold" fill="#111" >Time(days)</text>
<text id="bt" transform="translate(237.6,162) rotate(-90)" font-size="12.25" text-anchor="middle" font-weight="bold" fill="#111">Acetate Production Rate (mM day<tspan font-size="8" dy="-4.5">-1</tspan><tspan dy="4.5">)</tspan></text>
<text x="224.5" y="13.5" font-size="17.5" text-anchor="start" font-weight="bold" fill="#111" >B</text>
<rect x="496.7" y="21.1" width="157.5" height="285.4" fill="#fff"/>
<line x1="541.7" x2="541.7" y1="21.1" y2="306.5" stroke="#fbfbfb" stroke-width="0.5"/>
<line x1="581.9" x2="581.9" y1="21.1" y2="306.5" stroke="#fbfbfb" stroke-width="0.5"/>
<line x1="622.1" x2="622.1" y1="21.1" y2="306.5" stroke="#fbfbfb" stroke-width="0.5"/>
<line x1="496.7" x2="654.2" y1="262.1" y2="262.1" stroke="#fbfbfb" stroke-width="0.5"/>
<line x1="496.7" x2="654.2" y1="199.2" y2="199.2" stroke="#fbfbfb" stroke-width="0.5"/>
<line x1="496.7" x2="654.2" y1="136.2" y2="136.2" stroke="#fbfbfb" stroke-width="0.5"/>
<line x1="496.7" x2="654.2" y1="73.3" y2="73.3" stroke="#fbfbfb" stroke-width="0.5"/>
<line x1="521.5" x2="521.5" y1="21.1" y2="306.5" stroke="#f6f6f6" stroke-width="0.6"/>
<line x1="561.8" x2="561.8" y1="21.1" y2="306.5" stroke="#f6f6f6" stroke-width="0.6"/>
<line x1="602.0" x2="602.0" y1="21.1" y2="306.5" stroke="#f6f6f6" stroke-width="0.6"/>
<line x1="642.3" x2="642.3" y1="21.1" y2="306.5" stroke="#f6f6f6" stroke-width="0.6"/>
<line x1="496.7" x2="654.2" y1="293.5" y2="293.5" stroke="#f6f6f6" stroke-width="0.6"/>
<line x1="496.7" x2="654.2" y1="230.6" y2="230.6" stroke="#f6f6f6" stroke-width="0.6"/>
<line x1="496.7" x2="654.2" y1="167.7" y2="167.7" stroke="#f6f6f6" stroke-width="0.6"/>
<line x1="496.7" x2="654.2" y1="104.8" y2="104.8" stroke="#f6f6f6" stroke-width="0.6"/>
<line x1="496.7" x2="654.2" y1="41.9" y2="41.9" stroke="#f6f6f6" stroke-width="0.6"/>
<polyline points="503.8,293.7 523.4,291.3 545.3,286.3 567.0,286.3 588.8,286.3 610.8,287.2 632.5,281.5 647.5,277.0" fill="none" stroke="#DA1020" stroke-width="0.6" stroke-opacity="0.45" stroke-dasharray="0.8 1.3"/>
<polyline points="503.8,293.7 523.4,293.7 545.3,293.1 567.0,293.1 588.8,290.1 610.8,287.6 632.5,287.7 647.5,287.7" fill="none" stroke="#1818D0" stroke-width="0.6" stroke-opacity="0.45" stroke-dasharray="0.8 1.3"/>
<polyline points="503.8,293.7 523.4,274.4 545.3,257.8 567.0,245.0 588.8,209.6 610.8,171.5 632.5,140.6 647.5,110.2" fill="none" stroke="#DA1020" stroke-width="0.65" stroke-opacity="0.8" stroke-dasharray="2.2 1.4"/>
<polyline points="503.8,293.7 523.4,285.3 545.3,272.8 567.0,259.3 588.8,233.7 610.8,204.0 632.5,177.4 647.5,159.1" fill="none" stroke="#1818D0" stroke-width="0.65" stroke-opacity="0.8" stroke-dasharray="2.2 1.4"/>
<path d="M520.9 291.3L523.4 288.8L525.9 291.3L523.4 293.9Z" fill="#fff" fill-opacity="0.4" stroke="#DA1020" stroke-width="0.8" stroke-linejoin="round" stroke-opacity="0.58"/>
<path d="M520.9 293.7L523.4 291.1L525.9 293.7L523.4 296.2Z" fill="#fff" fill-opacity="0.4" stroke="#1818D0" stroke-width="0.8" stroke-linejoin="round" stroke-opacity="0.58"/>
<path d="M520.9 274.4L523.4 271.8L525.9 274.4L523.4 276.9Z" fill="#fff" fill-opacity="0.4" stroke="#DA1020" stroke-width="0.8" stroke-linejoin="round" stroke-opacity="0.7"/>
<path d="M520.9 285.3L523.4 282.8L525.9 285.3L523.4 287.9Z" fill="#fff" fill-opacity="0.4" stroke="#1818D0" stroke-width="0.8" stroke-linejoin="round" stroke-opacity="0.7"/>
<path d="M542.8 286.3L545.3 283.8L547.8 286.3L545.3 288.9Z" fill="#fff" fill-opacity="0.4" stroke="#DA1020" stroke-width="0.8" stroke-linejoin="round" stroke-opacity="0.58"/>
<path d="M542.8 293.1L545.3 290.5L547.8 293.1L545.3 295.6Z" fill="#fff" fill-opacity="0.4" stroke="#1818D0" stroke-width="0.8" stroke-linejoin="round" stroke-opacity="0.58"/>
<path d="M542.8 257.8L545.3 255.2L547.8 257.8L545.3 260.4Z" fill="#fff" fill-opacity="0.4" stroke="#DA1020" stroke-width="0.8" stroke-linejoin="round" stroke-opacity="0.7"/>
<path d="M542.8 272.8L545.3 270.2L547.8 272.8L545.3 275.4Z" fill="#fff" fill-opacity="0.4" stroke="#1818D0" stroke-width="0.8" stroke-linejoin="round" stroke-opacity="0.7"/>
<path d="M564.5 286.3L567.0 283.8L569.5 286.3L567.0 288.9Z" fill="#fff" fill-opacity="0.4" stroke="#DA1020" stroke-width="0.8" stroke-linejoin="round" stroke-opacity="0.58"/>
<path d="M564.5 293.1L567.0 290.5L569.5 293.1L567.0 295.6Z" fill="#fff" fill-opacity="0.4" stroke="#1818D0" stroke-width="0.8" stroke-linejoin="round" stroke-opacity="0.58"/>
<path d="M564.5 245.0L567.0 242.4L569.5 245.0L567.0 247.6Z" fill="#fff" fill-opacity="0.4" stroke="#DA1020" stroke-width="0.8" stroke-linejoin="round" stroke-opacity="0.7"/>
<path d="M564.5 259.3L567.0 256.8L569.5 259.3L567.0 261.9Z" fill="#fff" fill-opacity="0.4" stroke="#1818D0" stroke-width="0.8" stroke-linejoin="round" stroke-opacity="0.7"/>
<path d="M586.2 286.3L588.8 283.8L591.3 286.3L588.8 288.9Z" fill="#fff" fill-opacity="0.4" stroke="#DA1020" stroke-width="0.8" stroke-linejoin="round" stroke-opacity="0.58"/>
<path d="M586.2 290.1L588.8 287.5L591.3 290.1L588.8 292.6Z" fill="#fff" fill-opacity="0.4" stroke="#1818D0" stroke-width="0.8" stroke-linejoin="round" stroke-opacity="0.58"/>
<path d="M586.2 209.6L588.8 207.0L591.3 209.6L588.8 212.2Z" fill="#fff" fill-opacity="0.4" stroke="#DA1020" stroke-width="0.8" stroke-linejoin="round" stroke-opacity="0.7"/>
<path d="M586.2 233.7L588.8 231.1L591.3 233.7L588.8 236.2Z" fill="#fff" fill-opacity="0.4" stroke="#1818D0" stroke-width="0.8" stroke-linejoin="round" stroke-opacity="0.7"/>
<path d="M608.2 287.2L610.8 284.6L613.3 287.2L610.8 289.8Z" fill="#fff" fill-opacity="0.4" stroke="#DA1020" stroke-width="0.8" stroke-linejoin="round" stroke-opacity="0.58"/>
<path d="M608.2 287.6L610.8 285.0L613.3 287.6L610.8 290.1Z" fill="#fff" fill-opacity="0.4" stroke="#1818D0" stroke-width="0.8" stroke-linejoin="round" stroke-opacity="0.58"/>
<path d="M608.2 171.5L610.8 168.9L613.3 171.5L610.8 174.1Z" fill="#fff" fill-opacity="0.4" stroke="#DA1020" stroke-width="0.8" stroke-linejoin="round" stroke-opacity="0.7"/>
<path d="M608.2 204.0L610.8 201.4L613.3 204.0L610.8 206.6Z" fill="#fff" fill-opacity="0.4" stroke="#1818D0" stroke-width="0.8" stroke-linejoin="round" stroke-opacity="0.7"/>
<path d="M630.0 281.5L632.5 278.9L635.0 281.5L632.5 284.1Z" fill="#fff" fill-opacity="0.4" stroke="#DA1020" stroke-width="0.8" stroke-linejoin="round" stroke-opacity="0.58"/>
<path d="M630.0 287.7L632.5 285.1L635.0 287.7L632.5 290.2Z" fill="#fff" fill-opacity="0.4" stroke="#1818D0" stroke-width="0.8" stroke-linejoin="round" stroke-opacity="0.58"/>
<path d="M630.0 140.6L632.5 138.0L635.0 140.6L632.5 143.2Z" fill="#fff" fill-opacity="0.4" stroke="#DA1020" stroke-width="0.8" stroke-linejoin="round" stroke-opacity="0.7"/>
<path d="M630.0 177.4L632.5 174.8L635.0 177.4L632.5 180.0Z" fill="#fff" fill-opacity="0.4" stroke="#1818D0" stroke-width="0.8" stroke-linejoin="round" stroke-opacity="0.7"/>
<path d="M645.0 277.0L647.5 274.4L650.0 277.0L647.5 279.6Z" fill="#fff" fill-opacity="0.4" stroke="#DA1020" stroke-width="0.8" stroke-linejoin="round" stroke-opacity="0.58"/>
<path d="M645.0 287.7L647.5 285.1L650.0 287.7L647.5 290.2Z" fill="#fff" fill-opacity="0.4" stroke="#1818D0" stroke-width="0.8" stroke-linejoin="round" stroke-opacity="0.58"/>
<path d="M645.0 110.2L647.5 107.7L650.0 110.2L647.5 112.8Z" fill="#fff" fill-opacity="0.4" stroke="#DA1020" stroke-width="0.8" stroke-linejoin="round" stroke-opacity="0.7"/>
<path d="M645.0 159.1L647.5 156.5L650.0 159.1L647.5 161.7Z" fill="#fff" fill-opacity="0.4" stroke="#1818D0" stroke-width="0.8" stroke-linejoin="round" stroke-opacity="0.7"/>
<polyline points="503.8,293.7 523.4,272.0 545.3,250.4 567.0,237.6 588.8,202.2 610.8,165.0 632.5,128.4 647.5,93.5" fill="none" stroke="#DA1020" stroke-width="0.65" stroke-opacity="1"/>
<polyline points="503.8,293.7 523.4,275.7 545.3,245.5 567.0,224.7 588.8,167.7 610.8,116.8 632.5,68.5 647.5,34.1" fill="none" stroke="#DA1020" stroke-width="0.65" stroke-opacity="1"/>
<polyline points="503.8,293.7 523.4,285.3 545.3,272.2 567.0,258.7 588.8,230.1 610.8,197.9 632.5,171.4 647.5,153.1" fill="none" stroke="#1818D0" stroke-width="0.65" stroke-opacity="1"/>
<polyline points="503.8,293.7 523.4,280.6 545.3,263.9 567.0,246.2 588.8,207.2 610.8,164.0 632.5,124.4 647.5,99.8" fill="none" stroke="#1818D0" stroke-width="0.65" stroke-opacity="1"/>
<path d="M523.4 269.7L525.7 273.7L521.1 273.7Z" fill="#DA1020"/>
<rect x="521.6" y="273.9" width="3.5" height="3.5" fill="#DA1020"/>
<path d="M523.4 283.0L525.7 287.0L521.1 287.0Z" fill="#1818D0"/>
<rect x="521.6" y="278.9" width="3.5" height="3.5" fill="#1818D0"/>
<path d="M545.3 248.1L547.6 252.1L543.0 252.1Z" fill="#DA1020"/>
<rect x="543.5" y="243.8" width="3.5" height="3.5" fill="#DA1020"/>
<path d="M545.3 269.9L547.6 273.9L543.0 273.9Z" fill="#1818D0"/>
<rect x="543.5" y="262.1" width="3.5" height="3.5" fill="#1818D0"/>
<path d="M567.0 235.3L569.3 239.3L564.7 239.3Z" fill="#DA1020"/>
<rect x="565.2" y="222.9" width="3.5" height="3.5" fill="#DA1020"/>
<path d="M567.0 256.4L569.3 260.4L564.7 260.4Z" fill="#1818D0"/>
<rect x="565.2" y="244.4" width="3.5" height="3.5" fill="#1818D0"/>
<path d="M588.8 199.9L591.1 203.9L586.5 203.9Z" fill="#DA1020"/>
<rect x="587.0" y="165.9" width="3.5" height="3.5" fill="#DA1020"/>
<path d="M588.8 227.8L591.1 231.8L586.5 231.8Z" fill="#1818D0"/>
<rect x="587.0" y="205.4" width="3.5" height="3.5" fill="#1818D0"/>
<path d="M610.8 162.7L613.1 166.7L608.5 166.7Z" fill="#DA1020"/>
<rect x="609.0" y="115.0" width="3.5" height="3.5" fill="#DA1020"/>
<path d="M610.8 195.6L613.1 199.6L608.5 199.6Z" fill="#1818D0"/>
<rect x="609.0" y="162.2" width="3.5" height="3.5" fill="#1818D0"/>
<path d="M632.5 126.1L634.8 130.1L630.2 130.1Z" fill="#DA1020"/>
<rect x="630.8" y="66.8" width="3.5" height="3.5" fill="#DA1020"/>
<path d="M632.5 169.1L634.8 173.1L630.2 173.1Z" fill="#1818D0"/>
<rect x="630.8" y="122.7" width="3.5" height="3.5" fill="#1818D0"/>
<path d="M647.5 91.2L649.8 95.2L645.2 95.2Z" fill="#DA1020"/>
<rect x="645.8" y="32.4" width="3.5" height="3.5" fill="#DA1020"/>
<path d="M647.5 150.8L649.8 154.8L645.2 154.8Z" fill="#1818D0"/>
<rect x="645.8" y="98.0" width="3.5" height="3.5" fill="#1818D0"/>
<circle cx="503.9" cy="293.9" r="2.35" fill="#1818D0"/>
<rect x="496.7" y="21.1" width="157.5" height="285.4" fill="none" stroke="#dddddd" stroke-width="1.1"/>
<rect x="497.3" y="21.8" width="113.8" height="76.2" fill="#fff" stroke="#efefef" stroke-width="0.6"/>
<rect x="499.4" y="24.6" width="8.6" height="8.6" fill="#fff" stroke="#e2e2e2" stroke-width="0.5"/>
<line x1="500.2" x2="507.2" y1="28.9" y2="28.9" stroke="#DA1020" stroke-width="0.6" stroke-dasharray="2.4 1.2" stroke-opacity="0.8"/>
<path d="M501.7 28.9L503.7 26.9L505.7 28.9L503.7 30.9Z" fill="#fff" fill-opacity="0.4" stroke="#DA1020" stroke-width="0.8" stroke-linejoin="round" stroke-opacity="0.8"/>
<text x="509.8" y="30.4" font-size="9.3" text-anchor="start" font-weight="normal" fill="#111" >acetate_cc</text>
<rect x="499.4" y="33.7" width="8.6" height="8.6" fill="#fff" stroke="#e2e2e2" stroke-width="0.5"/>
<line x1="500.2" x2="507.2" y1="38.0" y2="38.0" stroke="#DA1020" stroke-width="0.6" stroke-dasharray="0.8 1" stroke-opacity="0.55"/>
<path d="M501.7 38.0L503.7 36.0L505.7 38.0L503.7 40.0Z" fill="#fff" fill-opacity="0.4" stroke="#DA1020" stroke-width="0.8" stroke-linejoin="round" stroke-opacity="0.6"/>
<text x="509.8" y="39.7" font-size="9.3" text-anchor="start" font-weight="normal" fill="#111" >hydrogen_cc</text>
<rect x="499.4" y="42.8" width="8.6" height="8.6" fill="#fff" stroke="#e2e2e2" stroke-width="0.5"/>
<line x1="500.2" x2="507.2" y1="47.1" y2="47.1" stroke="#DA1020" stroke-width="0.7"/>
<path d="M503.7 44.8L506.0 48.8L501.4 48.8Z" fill="#DA1020"/>
<text x="509.8" y="49.0" font-size="9.3" text-anchor="start" font-weight="normal" fill="#111" >total(Ac+H<tspan font-size='5' dy='1.5'>2</tspan><tspan dy='-1.5'>)_cc</tspan></text>
<rect x="499.4" y="51.9" width="8.6" height="8.6" fill="#fff" stroke="#e2e2e2" stroke-width="0.5"/>
<line x1="500.2" x2="507.2" y1="56.2" y2="56.2" stroke="#DA1020" stroke-width="0.7"/>
<rect x="501.9" y="54.4" width="3.6" height="3.6" fill="#DA1020"/>
<text x="509.8" y="58.2" font-size="9.3" text-anchor="start" font-weight="normal" fill="#111" >coulombs.consumed_cc</text>
<rect x="499.4" y="61.0" width="8.6" height="8.6" fill="#fff" stroke="#e2e2e2" stroke-width="0.5"/>
<line x1="500.2" x2="507.2" y1="65.3" y2="65.3" stroke="#1818D0" stroke-width="0.6" stroke-dasharray="2.4 1.2" stroke-opacity="0.8"/>
<path d="M501.7 65.3L503.7 63.3L505.7 65.3L503.7 67.3Z" fill="#fff" fill-opacity="0.4" stroke="#1818D0" stroke-width="0.8" stroke-linejoin="round" stroke-opacity="0.8"/>
<text x="509.8" y="67.5" font-size="9.3" text-anchor="start" font-weight="normal" fill="#111" >acetate_oc</text>
<rect x="499.4" y="70.1" width="8.6" height="8.6" fill="#fff" stroke="#e2e2e2" stroke-width="0.5"/>
<line x1="500.2" x2="507.2" y1="74.4" y2="74.4" stroke="#1818D0" stroke-width="0.6" stroke-dasharray="0.8 1" stroke-opacity="0.55"/>
<path d="M501.7 74.4L503.7 72.4L505.7 74.4L503.7 76.4Z" fill="#fff" fill-opacity="0.4" stroke="#1818D0" stroke-width="0.8" stroke-linejoin="round" stroke-opacity="0.6"/>
<text x="509.8" y="76.8" font-size="9.3" text-anchor="start" font-weight="normal" fill="#111" >hydrogen_oc</text>
<rect x="499.4" y="79.2" width="8.6" height="8.6" fill="#fff" stroke="#e2e2e2" stroke-width="0.5"/>
<line x1="500.2" x2="507.2" y1="83.5" y2="83.5" stroke="#1818D0" stroke-width="0.7"/>
<path d="M503.7 81.2L506.0 85.2L501.4 85.2Z" fill="#1818D0"/>
<text x="509.8" y="86.1" font-size="9.3" text-anchor="start" font-weight="normal" fill="#111" >total(Ac+H2)_oc</text>
<rect x="499.4" y="88.3" width="8.6" height="8.6" fill="#fff" stroke="#e2e2e2" stroke-width="0.5"/>
<line x1="500.2" x2="507.2" y1="92.6" y2="92.6" stroke="#1818D0" stroke-width="0.7"/>
<rect x="501.9" y="90.8" width="3.6" height="3.6" fill="#1818D0"/>
<text x="509.8" y="95.4" font-size="9.3" text-anchor="start" font-weight="normal" fill="#111" >coulombs.consumed_oc</text>
<text x="507.6" y="265.8" font-size="7.5" text-anchor="start" font-weight="normal" fill="#DA1020" style="stroke:#DA1020;stroke-width:0.2px" letter-spacing="-0.5">123%</text>
<text x="532.6" y="241.8" font-size="7.5" text-anchor="start" font-weight="normal" fill="#DA1020" style="stroke:#DA1020;stroke-width:0.2px">89%</text>
<text x="552.4" y="220.8" font-size="7.5" text-anchor="start" font-weight="normal" fill="#DA1020" style="stroke:#DA1020;stroke-width:0.2px">81%</text>
<text x="575.4" y="163.2" font-size="7.5" text-anchor="start" font-weight="normal" fill="#DA1020" style="stroke:#DA1020;stroke-width:0.2px">73%</text>
<text x="595.3" y="111.8" font-size="7.5" text-anchor="start" font-weight="normal" fill="#DA1020" style="stroke:#DA1020;stroke-width:0.2px">73%</text>
<text x="617.8" y="64.7" font-size="7.5" text-anchor="start" font-weight="normal" fill="#DA1020" style="stroke:#DA1020;stroke-width:0.2px">74%</text>
<text x="618.3" y="30.5" font-size="7.5" text-anchor="start" font-weight="normal" fill="#DA1020" style="stroke:#DA1020;stroke-width:0.2px">77% (84%)</text>
<text x="527.8" y="276.0" font-size="7.5" text-anchor="start" font-weight="normal" fill="#1818D0" style="stroke:#1818D0;stroke-width:0.2px">66%</text>
<text x="549.5" y="263.7" font-size="7.5" text-anchor="start" font-weight="normal" fill="#1818D0" style="stroke:#1818D0;stroke-width:0.2px">72%</text>
<text x="569.7" y="243.5" font-size="7.5" text-anchor="start" font-weight="normal" fill="#1818D0" style="stroke:#1818D0;stroke-width:0.2px">74%</text>
<text x="581.0" y="196.6" font-size="7.5" text-anchor="start" font-weight="normal" fill="#1818D0" style="stroke:#1818D0;stroke-width:0.2px">73%</text>
<text x="597.8" y="157.6" font-size="7.5" text-anchor="start" font-weight="normal" fill="#1818D0" style="stroke:#1818D0;stroke-width:0.2px">73%</text>
<text x="618.4" y="120.4" font-size="7.5" text-anchor="start" font-weight="normal" fill="#1818D0" style="stroke:#1818D0;stroke-width:0.2px">72%</text>
<text x="639.1" y="89.0" font-size="7.5" text-anchor="start" font-weight="normal" fill="#1818D0" style="stroke:#1818D0;stroke-width:0.2px">73% (72%)</text>
<text x="479.75" y="296.71" font-size="9.8" fill="#111">0</text>
<line x1="494" x2="495.6" y1="293.5" y2="293.5" stroke="#777" stroke-width="0.7"/>
<text x="471.40" y="233.81" font-size="9.8" fill="#111">1000</text>
<line x1="494" x2="495.6" y1="230.6" y2="230.6" stroke="#777" stroke-width="0.7"/>
<text x="471.40" y="170.91" font-size="9.8" fill="#111">2000</text>
<line x1="494" x2="495.6" y1="167.7" y2="167.7" stroke="#777" stroke-width="0.7"/>
<text x="471.40" y="108.01" font-size="9.8" fill="#111">3000</text>
<line x1="494" x2="495.6" y1="104.8" y2="104.8" stroke="#777" stroke-width="0.7"/>
<text x="471.40" y="45.11" font-size="9.8" fill="#111">4000</text>
<line x1="494" x2="495.6" y1="41.9" y2="41.9" stroke="#777" stroke-width="0.7"/>
<text x="513.83" y="317.50" font-size="9.5" fill="#111">178</text>
<line x1="521.5" x2="521.5" y1="306.5" y2="308.2" stroke="#777" stroke-width="0.7"/>
<text x="554.07" y="317.50" font-size="9.5" fill="#111">180</text>
<line x1="561.8" x2="561.8" y1="306.5" y2="308.2" stroke="#777" stroke-width="0.7"/>
<text x="594.31" y="317.50" font-size="9.5" fill="#111">182</text>
<line x1="602.0" x2="602.0" y1="306.5" y2="308.2" stroke="#777" stroke-width="0.7"/>
<text x="634.55" y="317.50" font-size="9.5" fill="#111">184</text>
<line x1="642.3" x2="642.3" y1="306.5" y2="308.2" stroke="#777" stroke-width="0.7"/>
<text x="575.1" y="331.0" font-size="12.5" text-anchor="middle" font-weight="bold" fill="#111" >Time (days)</text>
<text transform="translate(462.6,145.8) rotate(-90)" font-size="12.1" text-anchor="middle" font-weight="bold" fill="#111">Coulombs</text>
<text x="445.5" y="14.0" font-size="18" text-anchor="start" font-weight="bold" fill="#111" >C</text>
</svg></body></html>
